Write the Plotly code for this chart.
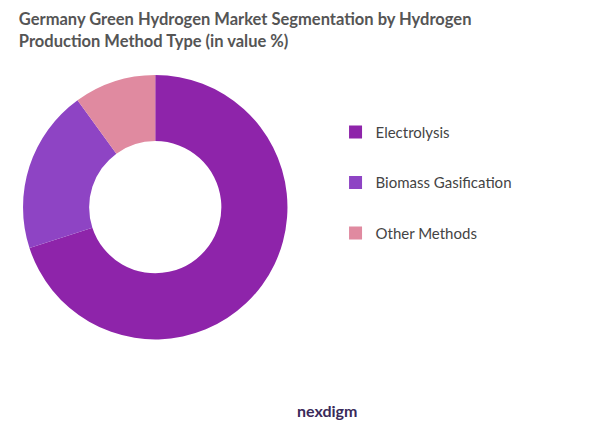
import plotly.graph_objects as go

labels = ["Electrolysis", "Biomass Gasification", "Other Methods"]
values = [70, 20, 10]
colors = ["#8E24AA", "#8E44C4", "#E08AA0"]

fig = go.Figure(go.Pie(
    labels=labels, values=values, hole=0.5, sort=False, direction="clockwise",
    rotation=0, marker=dict(colors=colors), textinfo="none", hoverinfo="label+percent",
    domain=dict(x=[0.025, 0.465], y=[0.236, 0.846]), showlegend=False
))
for lab, col in zip(labels, colors):
    fig.add_trace(go.Scatter(x=[None], y=[None], mode="markers", name=lab, legendgroup=lab,
                             marker=dict(symbol="square", size=13, color=col)))
fig.update_layout(
    width=601, height=434, paper_bgcolor="white", plot_bgcolor="white",
    margin=dict(l=0, r=0, t=0, b=0),
    xaxis=dict(visible=False), yaxis=dict(visible=False),
    title=dict(text="<b>Germany Green Hydrogen Market Segmentation by Hydrogen<br>Production Method Type (in value %)</b>",
               x=0.018, xanchor="left", y=0.96, yanchor="top",
               font=dict(family="Lato", size=16.5, color="#555555")),
    legend=dict(x=0.545, y=0.752, yanchor="top", font=dict(family="Lato", size=15, color="#444444"),
                tracegroupgap=28, itemwidth=30),
    annotations=[dict(text="<b>nexdigm</b>", x=0.53, y=0.045, xref="paper", yref="paper",
                      showarrow=False, font=dict(family="Lato", size=16, color="#3a2a5a"))]
)
fig.write_html("out.html")
